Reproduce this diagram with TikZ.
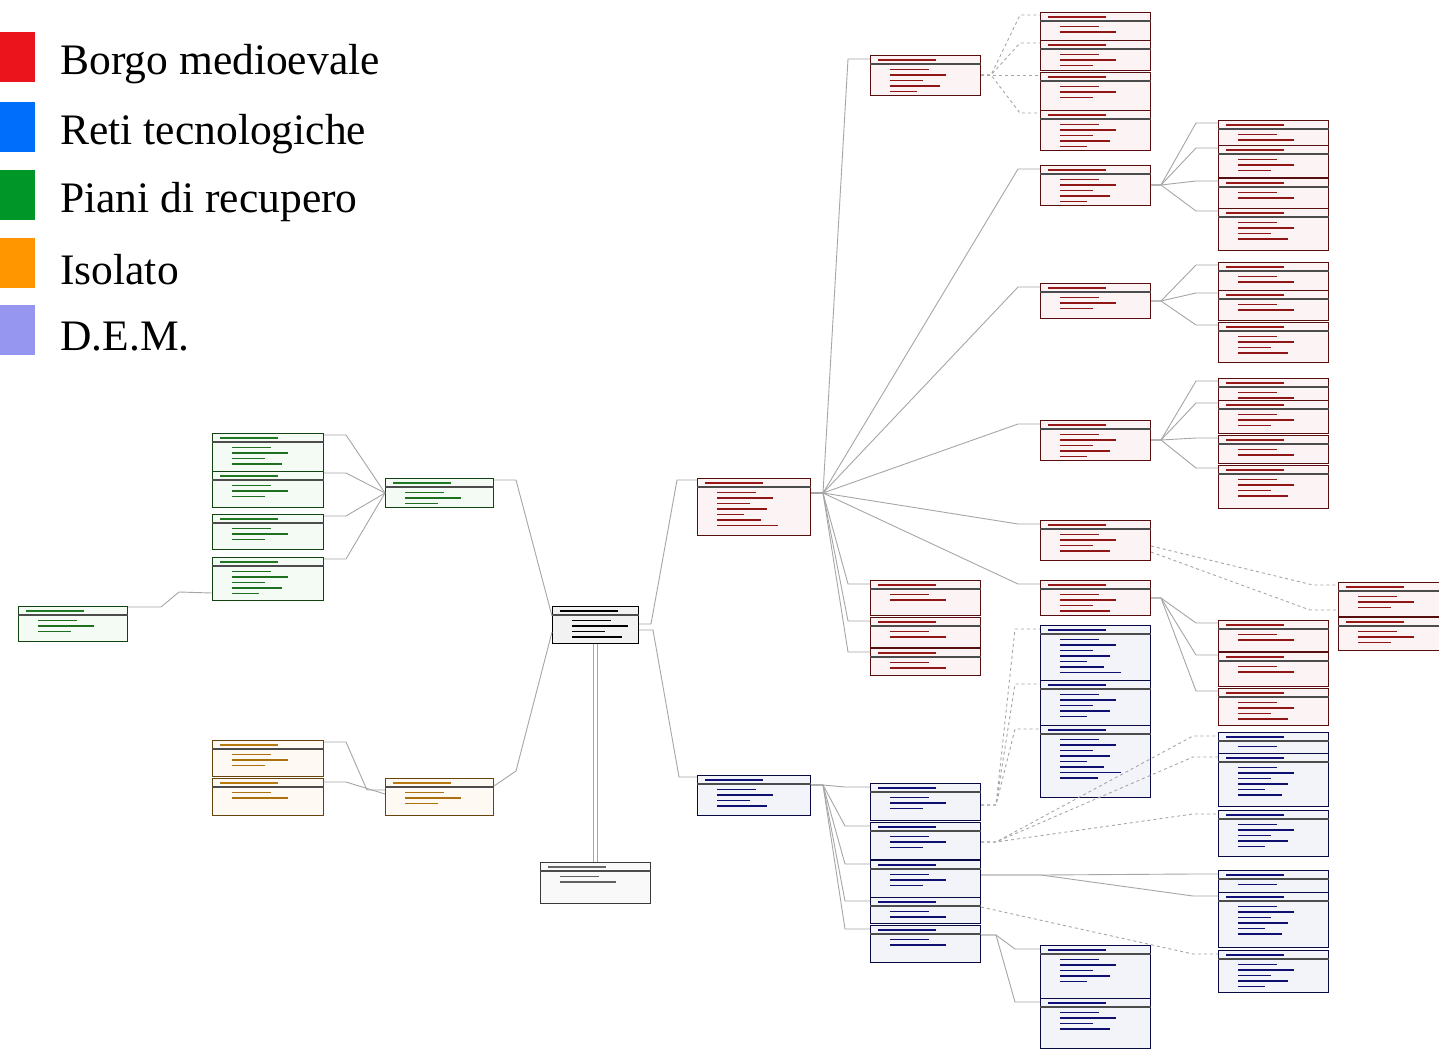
\documentclass[tikz,border=0pt]{standalone}
\usepackage{fontspec}
\newfontfamily\legfont{Liberation Serif}
\usetikzlibrary{positioning, calc}

\definecolor{legred}{RGB}{236,20,28}
\definecolor{legblue}{RGB}{0,110,250}
\definecolor{leggreen}{RGB}{0,150,40}
\definecolor{legorange}{RGB}{255,150,0}
\definecolor{leglav}{RGB}{150,150,240}
\definecolor{tabred}{RGB}{190,30,30}
\definecolor{tabblue}{RGB}{20,20,150}
\definecolor{tabgreen}{RGB}{40,150,40}
\definecolor{taborange}{RGB}{230,150,20}

\tikzset{
  key/.style={rectangle, minimum width=35pt, minimum height=50pt, inner sep=0pt},
  lab/.style={inner sep=0pt, font=\legfont\fontsize{43.5}{50}\selectfont},
  tbl/.style={rectangle, draw=#1!45!black, fill=#1!5, line width=1pt, anchor=north west, inner sep=0pt},
  conn/.style={draw=gray!70, line width=0.9pt},
  dconn/.style={conn, dashed}
}

% table: name, x, y, width, height, colour, rows
\newcommand\tab[7]{%
  \node[tbl=#6, minimum width=#4, minimum height=#5] (#1) at (#2,#3) {};
  \draw[#6!80!black, line width=2pt] ([xshift=8,yshift=-5]#1.north west) -- ++(58,0);
  \draw[black!70, line width=1.3pt] ([yshift=-9]#1.north west) -- ([yshift=-9]#1.north east);
  \foreach \k in {1,...,#7}
    \draw[#6!75!black, line width=1.4pt] ([xshift=20,yshift=-9-5.5*\k]#1.north west) -- ++({22+mod(\k*17,40)},0);
}

\begin{document}
\begin{tikzpicture}[x=1pt, y=-1pt]
  \fill[white] (0,0) rectangle (1439,1052);
  \useasboundingbox (0,0) rectangle (1439,1052);

  % legend
  \foreach \c/\t/\y [count=\i] in {legred/Borgo medioevale/57, legblue/Reti tecnologiche/127,
      leggreen/Piani di recupero/195, legorange/Isolato/263, leglav/D.E.M./330} {
    \node[key, fill=\c] (key\i) at (17.5,\y) {};
    \node[lab, right=25pt of key\i, yshift=-7pt] (lab\i) {\t};
  }

  % piani di recupero
  \tab{gA}{212}{433}{111}{38}{tabgreen}{4}
  \tab{gB}{212}{471}{111}{36}{tabgreen}{3}
  \tab{gC}{212}{514}{111}{35}{tabgreen}{3}
  \tab{gD}{212}{557}{111}{43}{tabgreen}{5}
  \tab{gM}{385}{478}{108}{29}{tabgreen}{3}
  \tab{gL}{18}{606}{109}{35}{tabgreen}{3}

  % isolato
  \tab{oA}{212}{740}{111}{36}{taborange}{3}
  \tab{oB}{212}{778}{111}{37}{taborange}{2}
  \tab{oM}{385}{778}{108}{37}{taborange}{3}

  % centre
  \tab{hub}{552}{606}{86}{37}{black}{4}
  \tab{dem}{540}{862}{110}{41}{gray}{2}

  % borgo medioevale
  \tab{r0}{697}{478}{113}{57}{tabred}{7}
  \tab{ra}{870}{55}{110}{40}{tabred}{5}
  \tab{r1}{1040}{12}{110}{28}{tabred}{2}
  \tab{r2}{1040}{40}{110}{30}{tabred}{3}
  \tab{r3}{1040}{72}{110}{38}{tabred}{3}
  \tab{r4}{1040}{110}{110}{40}{tabred}{5}
  \tab{rb}{1040}{165}{110}{40}{tabred}{5}
  \tab{rc}{1040}{283}{110}{35}{tabred}{3}
  \tab{rd}{1040}{420}{110}{40}{tabred}{5}
  \tab{re}{1040}{520}{110}{40}{tabred}{4}
  \tab{rf}{1040}{580}{110}{35}{tabred}{4}
  \tab{rg1}{870}{580}{110}{35}{tabred}{2}
  \tab{rg2}{870}{617}{110}{30}{tabred}{2}
  \tab{rg3}{870}{648}{110}{27}{tabred}{2}
  \tab{sa1}{1218}{120}{110}{25}{tabred}{2}
  \tab{sa2}{1218}{145}{110}{32}{tabred}{3}
  \tab{sa3}{1218}{178}{110}{30}{tabred}{2}
  \tab{sa4}{1218}{208}{110}{42}{tabred}{4}
  \tab{sb1}{1218}{262}{110}{28}{tabred}{2}
  \tab{sb2}{1218}{290}{110}{30}{tabred}{2}
  \tab{sb3}{1218}{322}{110}{40}{tabred}{4}
  \tab{sc1}{1218}{378}{110}{22}{tabred}{2}
  \tab{sc2}{1218}{400}{110}{33}{tabred}{3}
  \tab{sc3}{1218}{435}{110}{28}{tabred}{2}
  \tab{sc4}{1218}{465}{110}{43}{tabred}{4}
  \tab{sd1}{1218}{620}{110}{31}{tabred}{2}
  \tab{sd2}{1218}{652}{110}{34}{tabred}{2}
  \tab{sd3}{1218}{688}{110}{37}{tabred}{4}
  \tab{fa}{1338}{582}{101}{34}{tabred}{3}
  \tab{fb}{1338}{617}{101}{33}{tabred}{3}

  % reti tecnologiche
  \tab{b0}{697}{775}{113}{40}{tabblue}{4}
  \tab{bl1}{870}{783}{110}{37}{tabblue}{3}
  \tab{bl2}{870}{822}{110}{37}{tabblue}{3}
  \tab{bl3}{870}{860}{110}{37}{tabblue}{3}
  \tab{bl4}{870}{897}{110}{26}{tabblue}{2}
  \tab{bl5}{870}{925}{110}{37}{tabblue}{2}
  \tab{bm1}{1040}{625}{110}{55}{tabblue}{7}
  \tab{bm2}{1040}{680}{110}{45}{tabblue}{5}
  \tab{bm3}{1040}{725}{110}{72}{tabblue}{8}
  \tab{bn1}{1040}{945}{110}{53}{tabblue}{5}
  \tab{bn2}{1040}{998}{110}{50}{tabblue}{4}
  \tab{br1}{1218}{732}{110}{21}{tabblue}{1}
  \tab{br2}{1218}{753}{110}{53}{tabblue}{6}
  \tab{br3}{1218}{810}{110}{46}{tabblue}{5}
  \tab{br4}{1218}{870}{110}{22}{tabblue}{1}
  \tab{br5}{1218}{892}{110}{55}{tabblue}{6}
  \tab{br6}{1218}{950}{110}{42}{tabblue}{5}

  % links, green
  \draw[conn] ([yshift=-1]gL.north east) -- ++(33,0) -- ++(18,-15) -- ([yshift=8]gD.south west);
  \foreach \t in {gA,gB,gC,gD}
    \draw[conn] ([yshift=-2]\t.north east) -- ++(22,0) -- (gM.west);
  \draw[conn] ([yshift=-2]gM.north east) -- ++(22,0) -- ([yshift=-10]hub.north west);

  % links, orange
  \draw[conn] ([yshift=-2]oA.north east) -- ++(22,0) -- ([xshift=-18,yshift=-12]oM.north west) -- ([yshift=-12]oM.north west);
  \draw[conn] ([yshift=-4]oB.north east) -- ++(22,0) -- ([yshift=-16]oM.north west);
  \draw[conn] ([yshift=-8]oM.north east) -- ++(22,-15) -- ([yshift=-26]hub.north west);

  % links, centre
  \draw[conn] ([yshift=-18]hub.north east) -- ++(12,0) -- ([xshift=-20,yshift=-2]r0.north west) -- ([yshift=-2]r0.north west);
  \draw[conn] ([yshift=-24]hub.north east) -- ++(14,0) -- ([xshift=-18,yshift=-2]b0.north west) -- ([yshift=-2]b0.north west);
  \draw[conn, double=white, double distance=3pt, line width=0.7pt] (hub.south) -- (dem.north -| hub.south);

  % links, red
  \foreach \t in {ra,rb,rc,rd,re,rf,rg1,rg2,rg3}
    \draw[conn] ([yshift=-15]r0.north east) -- ++(12,0) -- ([xshift=-22,yshift=-4]\t.north west) -- ([yshift=-4]\t.north west);
  \foreach \t in {r1,r2,r3,r4}
    \draw[dconn] ([yshift=-20]ra.north east) -- ++(10,0) -- ([xshift=-20,yshift=-3]\t.north west) -- ([yshift=-3]\t.north west);
  \foreach \t in {sa1,sa2,sa3,sa4}
    \draw[conn] ([yshift=-20]rb.north east) -- ++(10,0) -- ([xshift=-22,yshift=-3]\t.north west) -- ([yshift=-3]\t.north west);
  \foreach \t in {sb1,sb2,sb3}
    \draw[conn] ([yshift=-18]rc.north east) -- ++(10,0) -- ([xshift=-22,yshift=-3]\t.north west) -- ([yshift=-3]\t.north west);
  \foreach \t in {sc1,sc2,sc3,sc4}
    \draw[conn] ([yshift=-20]rd.north east) -- ++(10,0) -- ([xshift=-22,yshift=-3]\t.north west) -- ([yshift=-3]\t.north west);
  \foreach \t in {sd1,sd2,sd3}
    \draw[conn] ([yshift=-18]rf.north east) -- ++(10,0) -- ([xshift=-22,yshift=-3]\t.north west) -- ([yshift=-3]\t.north west);
  \draw[dconn] ([yshift=-26]re.north east) -- ([xshift=-25,yshift=-3]fa.north west) -- ([yshift=-3]fa.north west);
  \draw[dconn] ([yshift=-32]re.north east) -- ([xshift=-28,yshift=-28]fa.north west) -- ([yshift=-28]fa.north west);

  % links, blue
  \foreach \t in {bl1,bl2,bl3,bl4,bl5}
    \draw[conn] ([yshift=-10]b0.north east) -- ++(12,0) -- ([xshift=-25,yshift=-4]\t.north west) -- ([yshift=-4]\t.north west);
  \foreach \t in {bm1,bm2,bm3}
    \draw[dconn] ([yshift=-22]bl1.north east) -- ++(15,0) -- ([xshift=-25,yshift=-4]\t.north west) -- ([yshift=-4]\t.north west);
  \foreach \t in {br1,br2,br3}
    \draw[dconn] ([yshift=-20]bl2.north east) -- ++(15,0) -- ([xshift=-25,yshift=-4]\t.north west) -- ([yshift=-4]\t.north west);
  \foreach \t in {br4,br5}
    \draw[conn] ([yshift=-15]bl3.north east) -- ++(60,0) -- ([xshift=-25,yshift=-4]\t.north west) -- ([yshift=-4]\t.north west);
  \draw[dconn] ([yshift=-10]bl4.north east) -- ([xshift=-25,yshift=-4]br6.north west) -- ([yshift=-4]br6.north west);
  \foreach \t in {bn1,bn2}
    \draw[conn] ([yshift=-10]bl5.north east) -- ++(15,0) -- ([xshift=-25,yshift=-4]\t.north west) -- ([yshift=-4]\t.north west);
\end{tikzpicture}
\end{document}
